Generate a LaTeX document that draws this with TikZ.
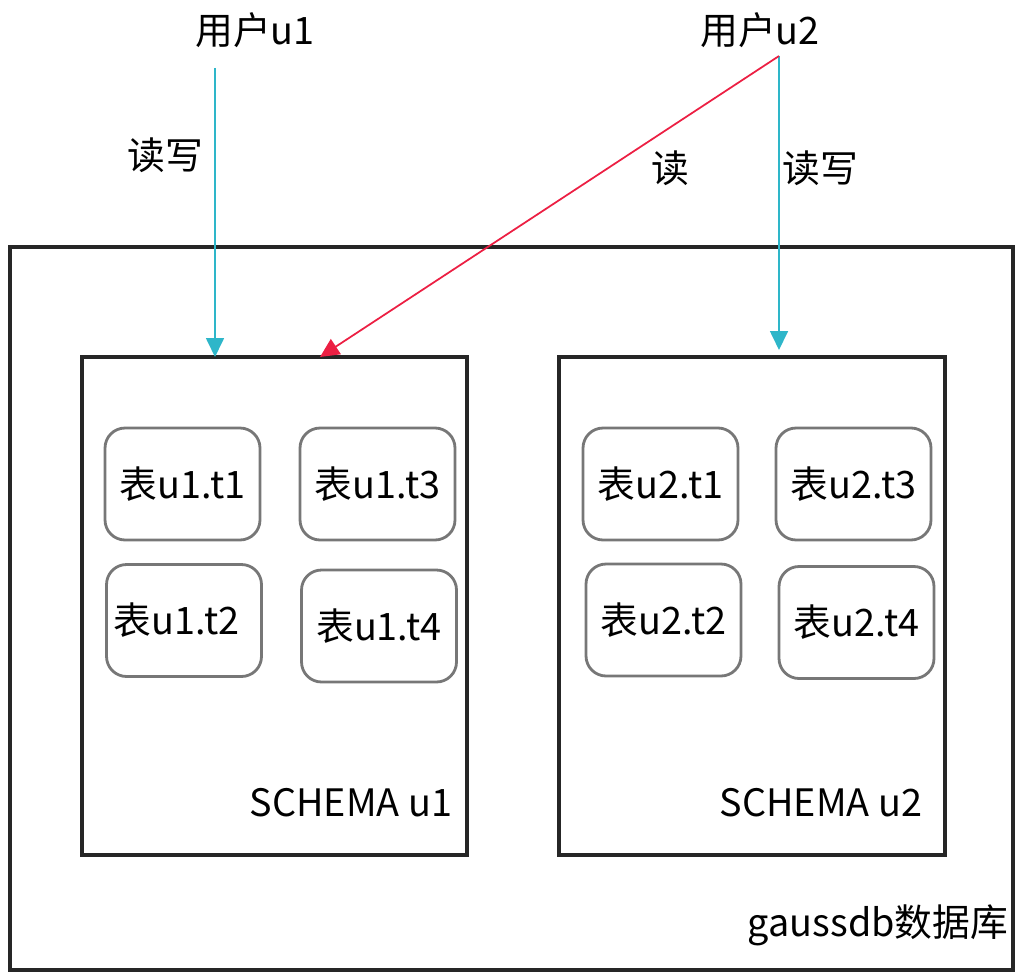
\documentclass[tikz,border=0pt]{standalone}
\usepackage{fontspec}
\setmainfont{Noto Sans CJK SC}
\usetikzlibrary{arrows.meta}
\definecolor{rwcyan}{HTML}{2EB6C9}
\definecolor{rdred}{HTML}{EC1F43}
\definecolor{tabgray}{HTML}{777777}
\begin{document}
\begin{tikzpicture}[x=0.02cm,y=-0.02cm,font=\fontsize{21.5}{24}\selectfont,
  box/.style={draw=black!85,line width=2pt,inner sep=0pt},
  tab/.style={draw=tabgray,line width=1.6pt,rounded corners=0.4cm,inner sep=0pt,
    minimum width=3.1cm,minimum height=2.24cm},
  rw/.style={draw=rwcyan,line width=1pt,-{Triangle[length=0.38cm,width=0.36cm]}},
  rd/.style={draw=rdred,line width=1pt,-{Triangle[length=0.38cm,width=0.36cm]}}]
  \useasboundingbox (0,0) rectangle (1016,972);

  \node[box,minimum width=20.06cm,minimum height=14.46cm] (db) at (511.5,608.5) {};
  \node[box,minimum width=7.7cm,minimum height=9.96cm] (s1) at (274.5,606) {};
  \node[box,minimum width=7.72cm,minimum height=9.96cm] (s2) at (752,606) {};

  \node[tab] (u1t1) at (182.5,484) {表u1.t1};
  \node[tab] (u1t3) at (377.5,484) {表u1.t3};
  \node[tab] (u1t2) at (184,620.5) {\hspace*{-0.3cm}表u1.t2};
  \node[tab] (u1t4) at (379,626) {表u1.t4};
  \node[tab] (u2t1) at (660.5,484) {表u2.t1};
  \node[tab] (u2t3) at (853.5,484) {表u2.t3};
  \node[tab] (u2t2) at (663.5,620) {表u2.t2};
  \node[tab] (u2t4) at (856.5,622.5) {表u2.t4};

  \node (s1lbl) at (351,803) {SCHEMA u1};
  \node (s2lbl) at (821,803) {SCHEMA u2};
  \node (dblbl) at (878,925) {gaussdb数据库};

  \node (u1) at (255,30) {用户u1};
  \node (u2) at (760,30) {用户u2};

  \coordinate (in1) at (215,357);
  \coordinate (in2) at (779,350);
  \coordinate (in3) at (320,357);
  \coordinate (o2) at (779,56);

  \draw[rw] (in1 |- 0,68) -- (in1);
  \draw[rw] (o2) -- (in2);
  \draw[rd] (o2) -- (in3);

  \node (rw1) at (165,155) {读写};
  \node (rd2) at (670,168) {读};
  \node (rw2) at (820,168) {读写};
\end{tikzpicture}
\end{document}
